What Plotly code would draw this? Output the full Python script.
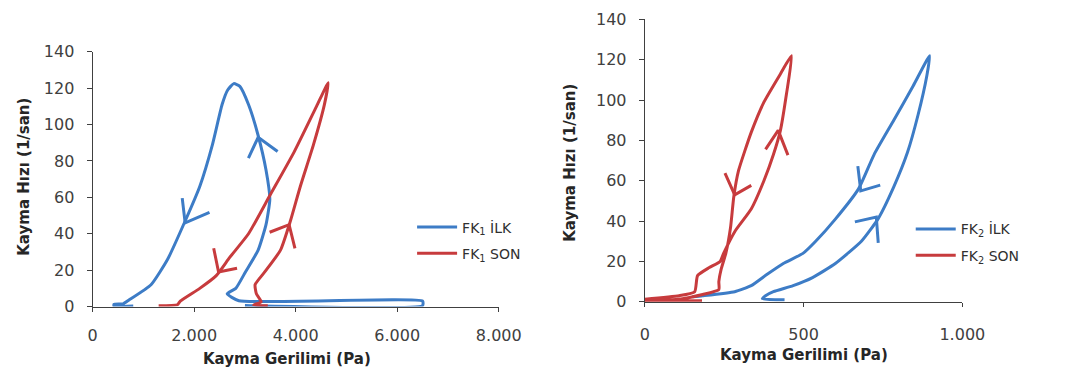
import plotly.graph_objects as go

# ---------------- data ----------------
# Left panel: FK1
fk1_ilk_x = [3000, 6500, 6500, 2880, 2650, 2820, 3010, 3260, 3415, 3490, 3415, 3260, 3070, 2900, 2780,
             2660, 2550, 2360, 2110, 1822, 1477, 1150, 710, 600, 420, 420, 800]
fk1_ilk_y = [0.6, 0.6, 3.0, 3.2, 7, 10, 19, 31, 45, 59, 75, 94, 111, 121, 122.5,
             119, 111, 89, 66, 47, 26, 12, 3.5, 1.5, 1.2, 0.3, 0.3]
fk1_son_x = [3450, 3170, 3320, 3225, 3200, 3390, 3700, 3895, 4090, 4350, 4565, 4640,
             4410, 3970, 3490, 3070, 2700, 2435, 2110, 1726, 1670, 1300]
fk1_son_y = [0.5, 0.8, 2.6, 7, 12, 19, 31, 47, 66, 89, 111, 123,
             110, 85, 61, 40, 27, 17, 10, 3, 1, 0.5]

# Right panel: FK2
fk2_ilk_x = [440, 370, 380, 405, 467, 528, 600, 682, 734, 784, 827, 861, 888, 897,
             845, 784, 722, 673, 600, 538, 498, 436, 384, 335, 283, 182, 150]
fk2_ilk_y = [1, 1.5, 3, 5, 8, 12, 19, 30, 41, 57, 74, 93, 112, 122,
             107, 90, 73, 56, 41, 30, 24, 19, 13.5, 8, 5, 3, 2.5]
fk2_son_x = [0, 108, 157, 166, 203, 237, 248, 284, 335, 375, 405, 427, 446, 462,
             427, 375, 335, 295, 280, 270, 255, 240, 233, 233, 182, 108, 0, 180]
fk2_son_y = [1.3, 3, 5, 13, 17, 20, 24, 35, 46, 60, 73, 85, 103, 122,
             113, 99, 84, 65, 52, 37, 24, 16, 10, 6, 3.6, 1.3, 0.5, 0.5]

# direction chevrons (tips, data coordinates)
arrow_tips_left = [(1822, 46, "blue"), (3260, 93, "blue"), (2480, 19, "red"), (3870, 45, "red")]
arrow_tips_right = [(680, 55, "blue"), (729, 42, "blue"), (283, 53, "red"), (420, 85, "red")]
# chevron arm offsets in screen pixels (style)
arms_left = [((-3, -26), (25, -11)), ((-10, 22), (20, 15)), ((-5, -25), (19, -4)), ((-20, 8), (6, 25))]
arms_right = [((-3, -26), (20, -6)), ((-22, 5), (2, 27)), ((-10, -23), (17, -10)), ((-13, 20), (10, 26))]

y_ticks = [0, 20, 40, 60, 80, 100, 120, 140]
x1_ticks = [0, 2000, 4000, 6000, 8000]
x1_ticktext = ["0", "2.000", "4.000", "6.000", "8.000"]
x2_ticks = [0, 500, 1000]
x2_ticktext = ["0", "500", "1.000"]

# ---------------- styling ----------------
W, H = 1073, 385
BLUE = "#3d7cc6"
RED = "#c73b3d"
COL = {"blue": BLUE, "red": RED}
FONT = "DejaVu Sans"
TICKCOL = "#404040"

# plot areas in pixels
L = dict(x0=90, x1=507, ytop=45, ybot=313, xr=(0, 8000))
R = dict(x0=657, x1=983, ytop=11, ybot=308, xr=(0, 1000))
YR = (0, 140)

fig = go.Figure()

def add_line(x, y, color, name, xa, ya, legend):
    fig.add_trace(go.Scatter(x=x, y=y, mode="lines", name=name,
                             line=dict(color=color, width=3, shape="spline", smoothing=0.5),
                             xaxis=xa, yaxis=ya, legend=legend, legendgroup=name))

add_line(fk1_ilk_x, fk1_ilk_y, BLUE, "FK<sub>1</sub> İLK", "x", "y", "legend")
add_line(fk1_son_x, fk1_son_y, RED, "FK<sub>1</sub> SON", "x", "y", "legend")
add_line(fk2_ilk_x, fk2_ilk_y, BLUE, "FK<sub>2</sub> İLK", "x2", "y2", "legend2")
add_line(fk2_son_x, fk2_son_y, RED, "FK<sub>2</sub> SON", "x2", "y2", "legend2")

def add_chevrons(tips, arms, P, xa, ya):
    pxx = (P["x1"] - P["x0"]) / (P["xr"][1] - P["xr"][0])
    pxy = (P["ybot"] - P["ytop"]) / (YR[1] - YR[0])
    for (tx, ty, c), (a1, a2) in zip(tips, arms):
        xs = [tx + a1[0] / pxx, tx, tx + a2[0] / pxx]
        ys = [ty - a1[1] / pxy, ty, ty - a2[1] / pxy]
        fig.add_trace(go.Scatter(x=xs, y=ys, mode="lines", showlegend=False, hoverinfo="skip",
                                 line=dict(color=COL[c], width=3), xaxis=xa, yaxis=ya))

add_chevrons(arrow_tips_left, arms_left, L, "x", "y")
add_chevrons(arrow_tips_right, arms_right, R, "x2", "y2")

def axis_common():
    return dict(showgrid=False, zeroline=False, showline=True, linecolor="#404040", linewidth=1.2,
                ticks="outside", ticklen=5, tickcolor="#404040",
                tickfont=dict(family=FONT, size=16, color=TICKCOL))

xa1 = axis_common(); xa1.update(range=list(L["xr"]), domain=[L["x0"] / W, L["x1"] / W],
                                tickvals=x1_ticks, ticktext=x1_ticktext, anchor="y",
                                ticklen=4, ticklabelstandoff=10)
ya1 = axis_common(); ya1.update(range=list(YR), domain=[1 - L["ybot"] / H, 1 - L["ytop"] / H],
                                tickvals=y_ticks, anchor="x", ticklabelstandoff=9)
xa2 = axis_common(); xa2.update(range=list(R["xr"]), domain=[R["x0"] / W, R["x1"] / W],
                                tickvals=x2_ticks, ticktext=x2_ticktext, anchor="y2",
                                ticklen=4, ticklabelstandoff=14)
ya2 = axis_common(); ya2.update(range=list(YR), domain=[1 - R["ybot"] / H, 1 - R["ytop"] / H],
                                tickvals=y_ticks, anchor="x2", ticklabelstandoff=9)

legend_common = dict(bgcolor="rgba(0,0,0,0)", borderwidth=0, xanchor="left", yanchor="top",
                     font=dict(family=FONT, size=14, color="#303030"),
                     tracegroupgap=5, itemwidth=40)

fig.update_layout(
    width=W, height=H, margin=dict(l=0, r=0, t=0, b=0),
    paper_bgcolor="white", plot_bgcolor="white",
    xaxis=xa1, yaxis=ya1, xaxis2=xa2, yaxis2=ya2,
    legend=dict(x=418 / W, y=1 - 213 / H, **legend_common),
    legend2=dict(x=930 / W, y=1 - 215 / H, **legend_common),
    showlegend=True,
)

title_font = dict(family=FONT, size=15, color="#262626")
annots = [
    dict(text="<b>Kayma Gerilimi (Pa)</b>", x=290 / W, y=1 - 368 / H),
    dict(text="<b>Kayma Gerilimi (Pa)</b>", x=820 / W, y=1 - 364 / H),
    dict(text="<b>Kayma Hızı (1/san)</b>", x=20 / W, y=1 - 176 / H, textangle=-90),
    dict(text="<b>Kayma Hızı (1/san)</b>", x=580 / W, y=1 - 162 / H, textangle=-90),
]
for a in annots:
    fig.add_annotation(xref="paper", yref="paper", showarrow=False, font=title_font,
                       xanchor="center", yanchor="middle", **a)

fig.write_html("out.html")
